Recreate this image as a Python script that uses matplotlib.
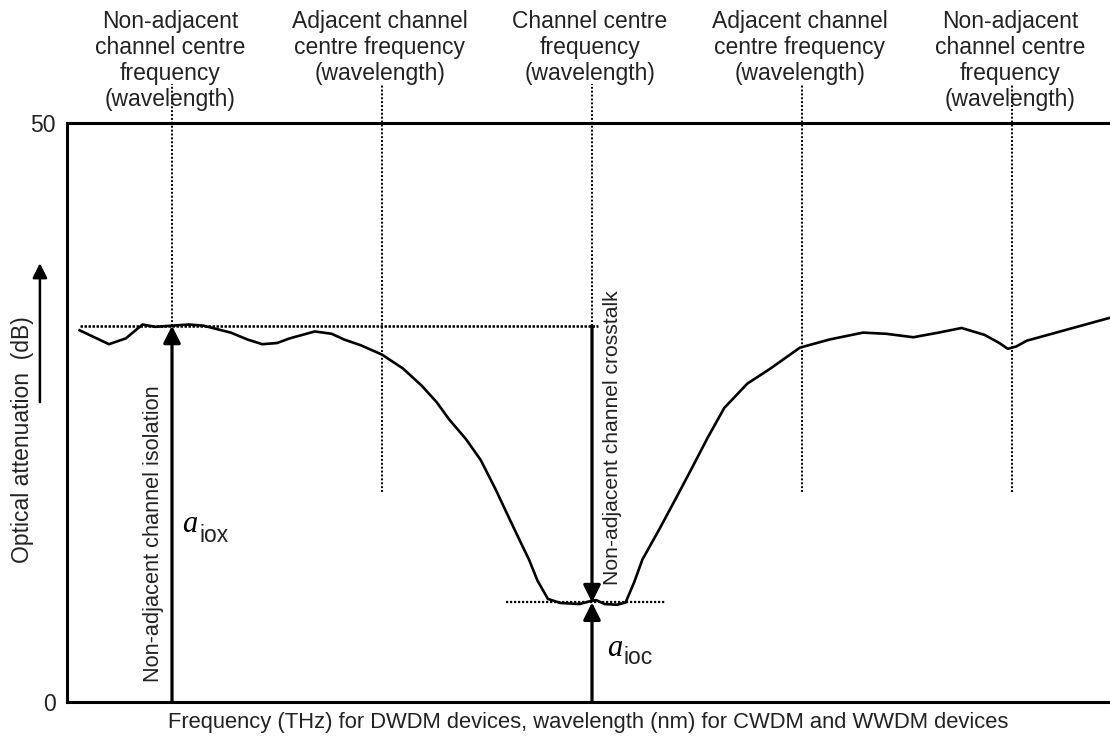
import matplotlib
matplotlib.use("Agg")
import matplotlib.pyplot as plt

plt.rcParams['font.family'] = ['Liberation Sans', 'DejaVu Sans']

# Channel grid: positions in channel-spacing units, 0 = channel under test
channel_pos = [-2, -1, 0, 1, 2]
channel_labels = [
    "Non-adjacent\nchannel centre\nfrequency\n(wavelength)",
    "Adjacent channel\ncentre frequency\n(wavelength)",
    "Channel centre\nfrequency\n(wavelength)",
    "Adjacent channel\ncentre frequency\n(wavelength)",
    "Non-adjacent\nchannel centre\nfrequency\n(wavelength)",
]

# Filter attenuation response (dB) versus frequency offset
freq = [-2.44, -2.37, -2.30, -2.22, -2.14, -2.08, -2.00, -1.92, -1.85, -1.72,
        -1.64, -1.57, -1.50, -1.44, -1.32, -1.24, -1.18, -1.10, -1.00, -0.90,
        -0.81, -0.74, -0.68, -0.60, -0.53, -0.46, -0.39, -0.34, -0.30, -0.26,
        -0.21, -0.15, -0.06, -0.01, 0.02, 0.06, 0.12, 0.16, 0.20, 0.24,
        0.32, 0.40, 0.47, 0.55, 0.63, 0.74, 0.85, 0.99, 1.13, 1.29,
        1.40, 1.53, 1.65, 1.76, 1.87, 1.94, 1.98, 2.02, 2.07, 2.23, 2.47]
atten = [32.1, 31.5, 30.9, 31.4, 32.6, 32.4, 32.5, 32.6, 32.5, 31.9,
         31.3, 30.9, 31.0, 31.4, 32.0, 31.8, 31.3, 30.8, 30.0, 28.8,
         27.3, 25.9, 24.4, 22.7, 20.9, 18.4, 15.7, 13.8, 12.3, 10.5,
         8.9, 8.55, 8.46, 8.7, 8.8, 8.46, 8.4, 8.6, 10.3, 12.3,
         14.9, 17.6, 20.0, 22.8, 25.4, 27.5, 28.8, 30.6, 31.3, 31.9,
         31.8, 31.5, 31.9, 32.3, 31.7, 31.0, 30.5, 30.7, 31.2, 32.0, 33.2]

isolation_level = 32.5   # a_iox
channel_floor = 8.6      # a_ioc
marker_bottom = 18.1     # lower end of the channel-centre markers
yticks = [0, 50]

TXT = '#222222'

fig = plt.figure(figsize=(11.1, 7.4), dpi=100)
ax = fig.add_axes([0.06036, 0.05135, 0.93964, 0.7824])
ax.set_xlim(-2.5, 2.4667)
ax.set_ylim(0, 50)

for side in ['left', 'bottom', 'top']:
    ax.spines[side].set_linewidth(2.2)
ax.spines['right'].set_visible(False)
ax.set_xticks([])
ax.set_yticks(yticks)
ax.set_yticklabels([str(v) for v in yticks], fontsize=16.5, color=TXT)
ax.tick_params(axis='y', length=0, pad=8)

dot = dict(color='black', lw=1.4, linestyle=(0, (1, 1)), clip_on=False)

# Channel centre markers
top_y = 53.4
ax.plot([channel_pos[0]] * 2, [isolation_level, top_y], **dot)
ax.plot([channel_pos[2]] * 2, [isolation_level, top_y], **dot)
for p in (channel_pos[1], channel_pos[3], channel_pos[4]):
    ax.plot([p, p], [marker_bottom, top_y], **dot)

# Reference levels
ax.plot([-2.44, 0.03], [isolation_level, isolation_level], color='black',
        lw=1.8, linestyle=(0, (1, 0.6)))
ax.plot([-0.41, 0.35], [channel_floor, channel_floor], color='black',
        lw=1.6, linestyle=(0, (1, 0.8)))

# Response curve
ax.plot(freq, atten, color='black', lw=1.9, solid_joinstyle='round')

# Arrows
arrow = dict(arrowstyle='-|>', lw=2.3, color='black', mutation_scale=26,
             shrinkA=0, shrinkB=0)
ax.annotate('', xy=(channel_pos[0], isolation_level), xytext=(channel_pos[0], 0),
            arrowprops=arrow, annotation_clip=False)
ax.annotate('', xy=(channel_pos[2], channel_floor), xytext=(channel_pos[2], isolation_level),
            arrowprops=arrow, annotation_clip=False)
ax.annotate('', xy=(channel_pos[2], channel_floor), xytext=(channel_pos[2], 0),
            arrowprops=arrow, annotation_clip=False)
ax.annotate('', xy=(-2.629, 37.9), xytext=(-2.629, 25.9),
            arrowprops=dict(arrowstyle='-|>', lw=1.8, color='black',
                            mutation_scale=22, shrinkA=0, shrinkB=0),
            annotation_clip=False)

# Channel captions above the plot
for p, lab in zip(channel_pos, channel_labels):
    ax.text(p - 0.01, 59.75, lab, ha='center', va='top', fontsize=16.5,
            color=TXT, linespacing=1.17, clip_on=False)

# Rotated annotations
ax.text(-2.086, 14.5, "Non-adjacent channel isolation", rotation=90,
        ha='center', va='center', fontsize=15.7, color=TXT)
ax.text(0.097, 22.8, "Non-adjacent channel crosstalk", rotation=90,
        ha='center', va='center', fontsize=15.2, color=TXT)

# Symbols a_iox and a_ioc
ax.text(-1.952, 14.68, "a", fontsize=22, family='Liberation Serif',
        style='italic', va='baseline', ha='left')
ax.text(-1.871, 13.82, "iox", fontsize=16.5, va='baseline', ha='left',
        color=TXT)
ax.text(0.074, 3.97, "a", fontsize=22, family='Liberation Serif',
        style='italic', va='baseline', ha='left')
ax.text(0.150, 3.28, "ioc", fontsize=16.5, va='baseline', ha='left',
        color=TXT)

# Axis titles
ax.text(-0.0431, 0.4525, "Optical attenuation  (dB)", rotation=90,
        transform=ax.transAxes, ha='center', va='center', fontsize=16.5,
        color=TXT)
ax.set_xlabel("Frequency (THz) for DWDM devices, wavelength (nm) for CWDM and WWDM devices",
              fontsize=15.8, color=TXT, labelpad=7)

fig.savefig("out.png", dpi=100)
